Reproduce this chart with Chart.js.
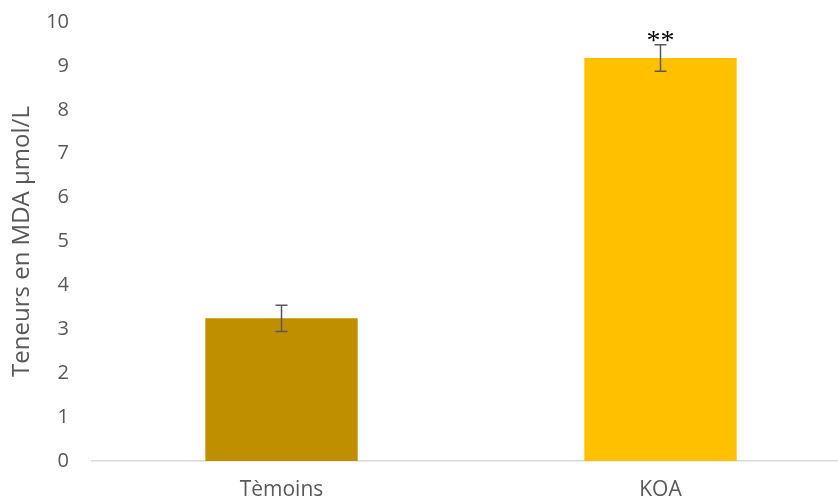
<!DOCTYPE html>
<html>
<head>
<meta charset="utf-8">
<script src="https://cdn.jsdelivr.net/npm/chart.js@4/dist/chart.umd.min.js"></script>
<style>
  html, body { margin: 0; padding: 0; background: #fff; overflow: hidden; }
  #wrap { width: 850px; height: 516px; position: relative; top: -13px; }
</style>
</head>
<body>
<div id="wrap"><canvas id="mda"></canvas></div>
<script>
// MDA levels, controls vs KOA
var groups = ['Tèmoins', 'KOA'];
var mdaMeans = [3.25, 9.18];
var mdaErrors = [0.3, 0.3];
var significance = ['', '**'];
var barColors = ['#BF8F00', '#FFC000'];

// draws the error bars and the significance stars over each bar
var errorBarPlugin = {
  id: 'errorBars',
  afterDatasetsDraw: function(chart) {
    var ctx = chart.ctx;
    var yScale = chart.scales.y;
    var meta = chart.getDatasetMeta(0);
    ctx.save();
    meta.data.forEach(function(bar, i) {
      var x = bar.x;
      var top = yScale.getPixelForValue(mdaMeans[i] + mdaErrors[i]);
      var bottom = yScale.getPixelForValue(mdaMeans[i] - mdaErrors[i]);
      ctx.strokeStyle = '#595959';
      ctx.lineWidth = 1.5;
      ctx.beginPath();
      ctx.moveTo(x, top); ctx.lineTo(x, bottom);
      ctx.moveTo(x - 6, top); ctx.lineTo(x + 6, top);
      ctx.moveTo(x - 6, bottom); ctx.lineTo(x + 6, bottom);
      ctx.stroke();
      if (significance[i]) {
        ctx.fillStyle = '#000';
        ctx.font = '28px "Liberation Serif", serif';
        ctx.textAlign = 'center';
        ctx.textBaseline = 'alphabetic';
        ctx.fillText(significance[i], x, top + 4);
      }
    });
    ctx.restore();
  }
};

new Chart(document.getElementById('mda'), {
  type: 'bar',
  data: {
    labels: groups,
    datasets: [{
      data: mdaMeans,
      backgroundColor: barColors,
      categoryPercentage: 1,
      barPercentage: 0.402
    }]
  },
  options: {
    responsive: true,
    maintainAspectRatio: false,
    animation: false,
    layout: { padding: 0 },
    plugins: { legend: { display: false }, tooltip: { enabled: false } },
    scales: {
      x: {
        afterFit: function(scale) { scale.height = 42; },
        grid: { display: false, drawTicks: false },
        border: { color: '#d9d9d9', width: 1.5 },
        ticks: { color: '#595959', font: { family: '"Open Sans"', size: 21 }, padding: 16 }
      },
      y: {
        min: 0, max: 10,
        afterFit: function(scale) { scale.width = 92; },
        grid: { display: false, drawTicks: false },
        border: { display: false },
        ticks: { stepSize: 1, color: '#595959', font: { family: '"Open Sans"', size: 20 }, padding: 23 },
        title: {
          display: true,
          text: 'Teneurs en MDA µmol/L',
          color: '#595959',
          font: { family: '"Open Sans"', size: 24 },
          padding: { top: 8, bottom: 9 }
        }
      }
    }
  },
  plugins: [errorBarPlugin]
});
</script>
</body>
</html>
